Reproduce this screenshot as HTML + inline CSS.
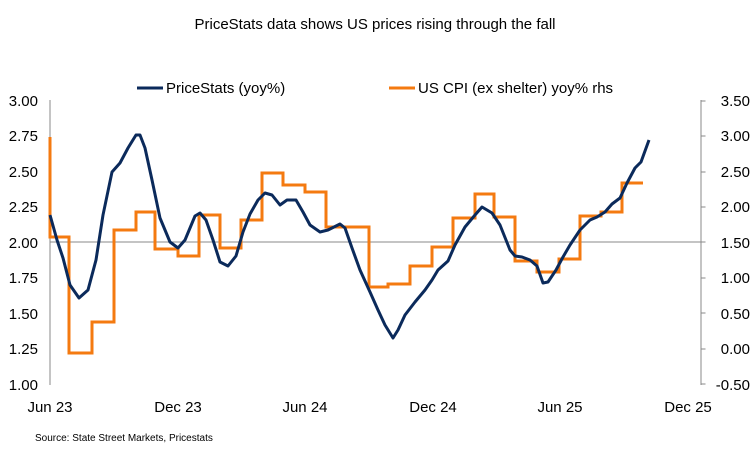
<!DOCTYPE html>
<html><head><meta charset="utf-8"><style>body{margin:0;background:#fff}svg{display:block;font-family:"Liberation Sans",Arial,sans-serif}</style></head><body>
<svg width="751" height="453" viewBox="0 0 751 453">
<rect width="751" height="453" fill="#fff"/>
<text x="375" y="29" font-size="15" text-anchor="middle" fill="#000">PriceStats data shows US prices rising through the fall</text>
<line x1="137" y1="88" x2="163" y2="88" stroke="#0b2a5b" stroke-width="3"/>
<text x="166" y="93" font-size="15" fill="#000">PriceStats (yoy%)</text>
<line x1="389" y1="88" x2="415" y2="88" stroke="#f47a10" stroke-width="3"/>
<text x="418" y="93" font-size="15" fill="#000">US CPI (ex shelter) yoy% rhs</text>
<line x1="50" y1="100" x2="50" y2="385" stroke="#888" stroke-width="1"/>
<line x1="701" y1="100" x2="701" y2="385" stroke="#888" stroke-width="1"/>
<line x1="50" y1="242" x2="701" y2="242" stroke="#888" stroke-width="1"/>
<g stroke="#888" transform="translate(0.5,0)"><line x1="701" y1="101" x2="705" y2="101"/><line x1="701" y1="136" x2="705" y2="136"/><line x1="701" y1="172" x2="705" y2="172"/><line x1="701" y1="207" x2="705" y2="207"/><line x1="701" y1="242" x2="705" y2="242"/><line x1="701" y1="278" x2="705" y2="278"/><line x1="701" y1="313" x2="705" y2="313"/><line x1="701" y1="349" x2="705" y2="349"/><line x1="701" y1="384" x2="705" y2="384"/></g>
<g font-size="15" fill="#000" text-anchor="end">
<text x="38" y="106">3.00</text><text x="38" y="141">2.75</text><text x="38" y="177">2.50</text><text x="38" y="212">2.25</text><text x="38" y="248">2.00</text><text x="38" y="283">1.75</text><text x="38" y="319">1.50</text><text x="38" y="354">1.25</text><text x="38" y="390">1.00</text>
</g>
<g font-size="15" fill="#000" text-anchor="end">
<text x="750" y="106">3.50</text><text x="750" y="141">3.00</text><text x="750" y="177">2.50</text><text x="750" y="212">2.00</text><text x="750" y="248">1.50</text><text x="750" y="283">1.00</text><text x="750" y="319">0.50</text><text x="750" y="354">0.00</text><text x="750" y="390">-0.50</text>
</g>
<g font-size="15" fill="#000" text-anchor="middle">
<text x="50" y="412">Jun 23</text><text x="178" y="412">Dec 23</text><text x="305" y="412">Jun 24</text><text x="433" y="412">Dec 24</text><text x="560" y="412">Jun 25</text><text x="688" y="412">Dec 25</text>
</g>
<text x="35" y="441" font-size="10" fill="#000">Source: State Street Markets, Pricestats</text>
<path fill="none" stroke="#f47a10" stroke-width="3" stroke-linejoin="miter" d="M50,137 V237 H69 V353 H92 V322 H114 V230 H136 V212 H155 V249 H178 V256 H199 V215 H220 V248 H241 V220 H262 V173 H283 V185 H305 V192 H326 V227 H369 V287 H388 V284 H410 V266 H432 V247 H453 V218 H475 V194 H494 V217 H515 V261 H537 V272 H559 V259 H580 V216 H601 V212 H622 V183 H643"/>
<polyline fill="none" stroke="#0b2a5b" stroke-width="3" stroke-linejoin="round" points="50,215 57,240 63,258 70,285 79,298 88,290 96,260 103,215 112,172 120,163 128,148 136,135 140,135 145,148 152,180 160,218 170,242 178,248 185,240 195,216 200,213 206,220 213,240 220,262 228,266 236,256 243,232 250,214 258,200 265,193 272,195 280,205 287,200 296,200 303,212 310,225 320,232 328,230 340,224 345,228 352,248 360,270 370,292 378,310 385,325 393,338 398,330 405,315 415,302 425,290 432,280 438,270 448,261 455,245 465,227 475,215 482,207 492,213 500,225 506,240 510,250 515,256 522,257 530,260 537,266 543,283 548,282 556,270 563,257 570,245 580,230 590,220 597,217 605,212 612,204 620,198 627,183 635,168 641,162 649,140"/>
</svg>
</body></html>
